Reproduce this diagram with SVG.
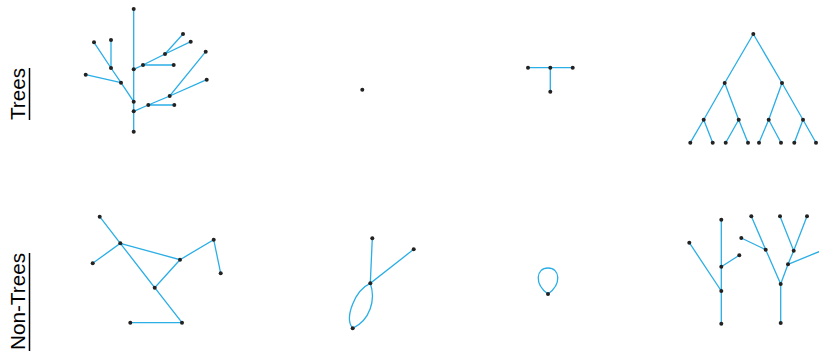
<svg xmlns="http://www.w3.org/2000/svg" width="819" height="351" viewBox="0 0 819 351">
<style>
.e{stroke:#2aaee6;stroke-width:1.3;fill:none;stroke-linecap:round}
.n{fill:#222}
.lbl{font-family:"Liberation Sans",Arial,sans-serif;font-size:20px;fill:#000}
.ul{stroke:#000;stroke-width:1.5}
</style>
<defs><circle id="d" r="2" class="n"/></defs>
<g id="labels">
<text class="lbl" transform="translate(24.5,120) rotate(-90)" textLength="52" lengthAdjust="spacingAndGlyphs">Trees</text>
<line class="ul" x1="29.5" y1="68" x2="29.5" y2="120"/>
<text class="lbl" transform="translate(24.5,350) rotate(-90)" textLength="97" lengthAdjust="spacingAndGlyphs">Non-Trees</text>
<line class="ul" x1="29.5" y1="253" x2="29.5" y2="351"/>
</g>
<g id="connectors">
<path class="e" d="M133.7,9V131.7 M94,42.3L111,68L121,82.7L133.7,101.7 M111,40V68 M85.7,74.7L121,82.7 M133.7,69.3L143,65L165,54L183,34 M165,54L190.7,41.7 M143,65H173.7 M133.7,111.3L148.3,105L169.7,96L205.7,51.7 M169.7,96L206.7,79.7 M148.3,105H174.3"/>
<path class="e" d="M528,67.7H572.7 M550.3,67.7V91.7"/>
<path class="e" d="M753.3,34L724.7,83L703.7,119.7L690.3,142.7 M703.7,119.7L712.7,142.7 M724.7,83L738.7,119.7L725.7,142.7 M738.7,119.7L748,142.7 M753.3,34L782,83L768.7,119.7L759,142.7 M768.7,119.7L781,142.7 M782,83L803,119.7L794.3,142.7 M803,119.7L816,142.7"/>
<path class="e" d="M99.7,216.7L120.3,243.3L92.7,263.3 M120.3,243.3L180,259.7L213.7,239.7L220.7,273.3 M120.3,243.3L154.7,287.7L180,259.7 M154.7,287.7L182,322.7L130.3,322.7"/>
<path class="e" d="M372.3,238.3L370.3,283.3L413.7,249.3 M370.3,283.3C355,290 344,318 352.7,328.3 M370.3,283.3C376,300 370,320 352.7,328.3"/>
<path class="e" d="M548,294C534,284 536,268 548,268C560,268 562,284 548,294Z"/>
<path class="e" d="M721.3,219.7V323.7 M689.3,242.7L721.3,291 M721.3,266.7L739.3,255.3 M751.3,216.3L765.7,249.7L780.7,284 M741.3,238L765.7,249.7 M780,216.3L793.7,250.7L807,216.3 M793.7,250.7L788,264.3L780.7,284 M788,264.3L819,251.7 M780.7,284V323"/>
</g>
<g id="tree1">
<use href="#d" x="133.7" y="9"/><use href="#d" x="94" y="42.3"/><use href="#d" x="111" y="40"/><use href="#d" x="183" y="34"/><use href="#d" x="190.7" y="41.7"/><use href="#d" x="165" y="54"/><use href="#d" x="205.7" y="51.7"/><use href="#d" x="143" y="65"/><use href="#d" x="173.7" y="65"/><use href="#d" x="133.7" y="69.3"/><use href="#d" x="111" y="68"/><use href="#d" x="85.7" y="74.7"/><use href="#d" x="121" y="82.7"/><use href="#d" x="206.7" y="79.7"/><use href="#d" x="169.7" y="96"/><use href="#d" x="133.7" y="101.7"/><use href="#d" x="148.3" y="105"/><use href="#d" x="174.3" y="105"/><use href="#d" x="133.7" y="111.3"/><use href="#d" x="133.7" y="131.7"/>
</g>
<g id="tree2"><use href="#d" x="362.3" y="89.7"/></g>
<g id="tree3">
<use href="#d" x="528" y="67.7"/><use href="#d" x="550.3" y="67.7"/><use href="#d" x="572.7" y="67.7"/><use href="#d" x="550.3" y="91.7"/>
</g>
<g id="tree4">
<use href="#d" x="753.3" y="34"/><use href="#d" x="724.7" y="83"/><use href="#d" x="782" y="83"/><use href="#d" x="703.7" y="119.7"/><use href="#d" x="738.7" y="119.7"/><use href="#d" x="768.7" y="119.7"/><use href="#d" x="803" y="119.7"/><use href="#d" x="690.3" y="142.7"/><use href="#d" x="712.7" y="142.7"/><use href="#d" x="725.7" y="142.7"/><use href="#d" x="748" y="142.7"/><use href="#d" x="759" y="142.7"/><use href="#d" x="781" y="142.7"/><use href="#d" x="794.3" y="142.7"/><use href="#d" x="816" y="142.7"/>
</g>
<g id="nontree1">
<use href="#d" x="99.7" y="216.7"/><use href="#d" x="120.3" y="243.3"/><use href="#d" x="92.7" y="263.3"/><use href="#d" x="213.7" y="239.7"/><use href="#d" x="180" y="259.7"/><use href="#d" x="220.7" y="273.3"/><use href="#d" x="154.7" y="287.7"/><use href="#d" x="130.3" y="322.7"/><use href="#d" x="182" y="322.7"/>
</g>
<g id="nontree2">
<use href="#d" x="372.3" y="238.3"/><use href="#d" x="413.7" y="249.3"/><use href="#d" x="370.3" y="283.3"/><use href="#d" x="352.7" y="328.3"/>
</g>
<g id="nontree3"><use href="#d" x="548" y="294"/></g>
<g id="nontree4">
<use href="#d" x="721.3" y="219.7"/><use href="#d" x="689.3" y="242.7"/><use href="#d" x="739.3" y="255.3"/><use href="#d" x="721.3" y="266.7"/><use href="#d" x="721.3" y="291"/><use href="#d" x="721.3" y="323.7"/><use href="#d" x="751.3" y="216.3"/><use href="#d" x="780" y="216.3"/><use href="#d" x="807" y="216.3"/><use href="#d" x="741.3" y="238"/><use href="#d" x="765.7" y="249.7"/><use href="#d" x="793.7" y="250.7"/><use href="#d" x="788" y="264.3"/><use href="#d" x="780.7" y="284"/><use href="#d" x="780.7" y="323"/>
</g>
</svg>
